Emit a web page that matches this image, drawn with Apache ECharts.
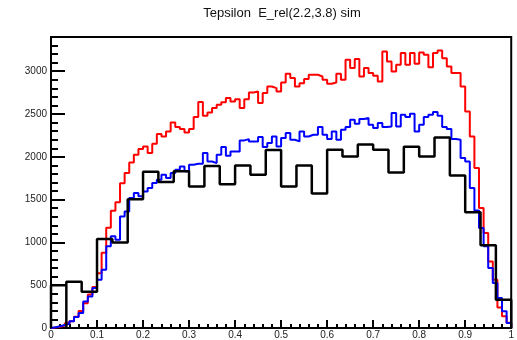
<!DOCTYPE html>
<html>
<head>
<meta charset="utf-8">
<script src="https://cdn.jsdelivr.net/npm/echarts@6/dist/echarts.min.js"></script>
<style>
  html, body { margin: 0; padding: 0; background: #fff; }
  #chart { width: 517px; height: 340px; }
</style>
</head>
<body>
<div id="chart"></div>
<script>
// Histogram title and x range
const titleText = 'Tepsilon  E_rel(2.2,3.8) sim';
const xRange = [0, 1];

// Fine-binned histograms (100 bins over 0..1)
const redCounts = [
  5, 15, 30, 55, 80, 130, 200, 290, 390, 480,
  640, 880, 1170, 1370, 1470, 1690, 1810, 1935, 2025, 2091,
  2122, 2044, 2153, 2266, 2238, 2297, 2402, 2348, 2324, 2285,
  2324, 2464, 2640, 2480, 2519, 2569, 2608, 2639, 2686, 2647,
  2674, 2569, 2674, 2752, 2764, 2628, 2745, 2822, 2803, 2764,
  2869, 2970, 2920, 2822, 2861, 2908, 2959, 2959, 2939, 2900,
  2853, 2869, 2970, 2900, 3134, 3037, 3142, 2939, 3037, 2978,
  2947, 2881, 3231, 3114, 2997, 3075, 3212, 3075, 3212, 3087,
  3219, 3192, 3048, 3212, 3243, 3153, 3056, 2978, 2978, 2822,
  2530, 2238, 1868, 1401, 1109, 778, 564, 240, 136, 60
];
const blueCounts = [
  10, 20, 35, 50, 80, 128, 175, 311, 369, 467,
  564, 681, 954, 1071, 1032, 1304, 1362, 1518, 1577, 1538,
  1596, 1635, 1694, 1732, 1791, 1752, 1810, 1849, 1888, 1830,
  1907, 1919, 1919, 2044, 1946, 1927, 2024, 2114, 2012, 2063,
  2063, 2192, 2207, 2180, 2180, 2231, 2114, 2161, 2238, 2122,
  2219, 2277, 2199, 2180, 2297, 2238, 2258, 2258, 2348, 2258,
  2207, 2297, 2199, 2316, 2348, 2433, 2386, 2441, 2453, 2375,
  2336, 2394, 2348, 2355, 2511, 2355, 2491, 2464, 2503, 2297,
  2375, 2464, 2491, 2523, 2480, 2348, 2324, 2207, 2199, 1985,
  1946, 1635, 1374, 1168, 954, 701, 525, 350, 195, 58
];

// Coarse-binned histogram (30 bins over 0..1)
const blackCounts = [
  500, 540, 425, 1040, 1000, 1505, 1826, 1705, 1830, 1654,
  1893, 1680, 1900, 1790, 2080, 1654, 1898, 1572, 2083, 2005,
  2145, 2083, 1818, 2117, 2005, 2227, 1781, 1353, 967, 331
];

// Axis settings
const yMax = 3400;
const yMajorStep = 500;
const yMinorStep = 100;
const xMajorStep = 0.1;

// Turn bin contents into an outline path (used with step:'end').
// dropFirstEdge also runs the first inner bin edge down to the baseline.
function histPath(counts, dropFirstEdge) {
  const n = counts.length;
  const w = (xRange[1] - xRange[0]) / n;
  const pts = [[xRange[0], 0]];
  counts.forEach((v, i) => {
    const x = xRange[0] + i * w;
    if (dropFirstEdge && i === 1) pts.push([x, 0]);
    pts.push([x, v]);
  });
  pts.push([xRange[1], counts[n - 1]]);
  pts.push([xRange[1], 0]);
  return pts;
}

const font = 'Liberation Sans, Arial, Helvetica, sans-serif';

function histSeries(name, counts, color, width, drop) {
  return {
    name: name,
    type: 'line',
    step: 'end',
    data: histPath(counts, drop),
    showSymbol: false,
    symbol: 'none',
    clip: true,
    lineStyle: { color: color, width: width },
    xAxisIndex: 0,
    yAxisIndex: 0,
    silent: true
  };
}

const chart = echarts.init(document.getElementById('chart'), null, { renderer: 'canvas' });
chart.setOption({
  animation: false,
  backgroundColor: '#fff',
  title: {
    text: titleText,
    left: 282,
    top: 7,
    padding: 0,
    textAlign: 'center',
    textStyle: { fontFamily: font, fontSize: 13, fontWeight: 'normal', color: '#111' }
  },
  grid: {
    left: 51, right: 5, top: 37, bottom: 12,
    show: true, borderColor: '#000', borderWidth: 2,
    backgroundColor: 'transparent'
  },
  xAxis: {
    type: 'value',
    min: xRange[0], max: xRange[1], interval: xMajorStep,
    axisLine: { show: true, onZero: false, lineStyle: { color: '#000', width: 2 } },
    axisTick: { show: true, inside: true, length: 8, lineStyle: { color: '#000', width: 2 } },
    minorTick: { show: true, splitNumber: 5, length: 4, lineStyle: { color: '#000', width: 2 } },
    axisLabel: {
      fontFamily: font, fontSize: 10, color: '#222', margin: 2,
      formatter: v => String(Math.round(v * 10) / 10)
    },
    splitLine: { show: false },
    minorSplitLine: { show: false }
  },
  yAxis: [
    {
      type: 'value', position: 'left',
      min: 0, max: yMax, interval: yMajorStep,
      axisLine: { show: true, onZero: false, lineStyle: { color: '#000', width: 2 } },
      axisTick: { show: true, inside: true, length: 14, lineStyle: { color: '#000', width: 2 } },
      axisLabel: {
        fontFamily: font, fontSize: 10, color: '#222', margin: 4, showMaxLabel: false,
        formatter: v => String(v)
      },
      splitLine: { show: false }
    },
    {
      type: 'value', position: 'left',
      min: 0, max: yMax, interval: yMinorStep,
      axisLine: { show: false },
      axisTick: { show: true, inside: true, length: 7, lineStyle: { color: '#000', width: 2 } },
      axisLabel: { show: false },
      splitLine: { show: false }
    }
  ],
  series: [
    histSeries('red', redCounts, '#ff0000', 2, false),
    histSeries('blue', blueCounts, '#0000ff', 2, false),
    histSeries('black', blackCounts, '#000000', 2.5, true)
  ]
});
</script>
</body>
</html>
